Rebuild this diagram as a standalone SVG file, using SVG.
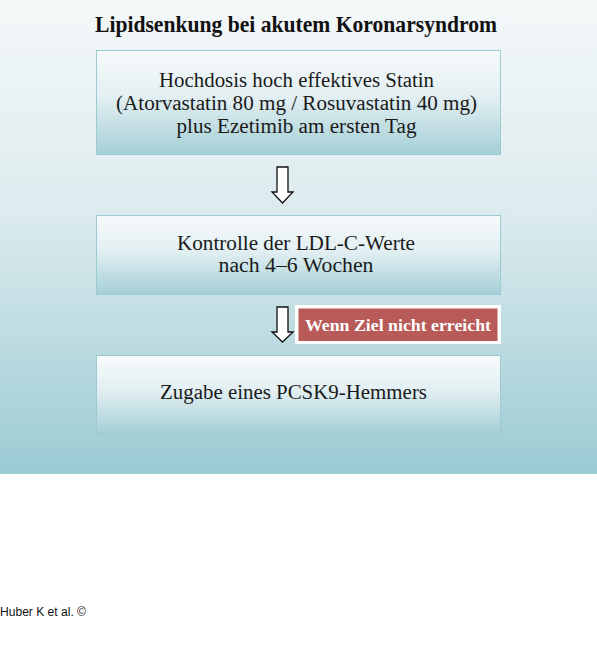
<svg xmlns="http://www.w3.org/2000/svg" width="597" height="661" viewBox="0 0 597 661">
<defs>
<linearGradient id="bg" x1="0" y1="0" x2="0" y2="1">
<stop offset="0" stop-color="#f4f8f9"/>
<stop offset="0.45" stop-color="#dcebee"/>
<stop offset="1" stop-color="#9bcbd3"/>
</linearGradient>
<linearGradient id="box" x1="0" y1="0" x2="0" y2="1">
<stop offset="0" stop-color="#f7fafb"/>
<stop offset="0.45" stop-color="#e2eff2"/>
<stop offset="1" stop-color="#a4cfd6"/>
</linearGradient>
<style>
.box{fill:url(#box);stroke:#9ccad2;stroke-width:1}
.t{font-family:"Liberation Serif","Times New Roman",serif;font-size:20px;fill:#1a1a1a;text-anchor:middle}
.arrow{fill:#ffffff;stroke:#111111;stroke-width:1.3;stroke-linejoin:miter}
</style>
</defs>
<rect x="0" y="0" width="597" height="474" fill="url(#bg)"/>
<rect x="0" y="474" width="597" height="187" fill="#ffffff"/>
<text x="296" y="32" font-family="'Liberation Serif','Times New Roman',serif" font-size="23" font-weight="bold" fill="#111" text-anchor="middle" textLength="402" lengthAdjust="spacingAndGlyphs">Lipidsenkung bei akutem Koronarsyndrom</text>
<g id="connectors">
<path class="arrow" d="M277,167 H288 V192 H293 L282.5,203 L272,192 H277 Z"/>
<path class="arrow" d="M277,307 H288 V332 H293 L282.5,342 L272,332 H277 Z"/>
</g>
<g id="node1">
<rect class="box" x="96.5" y="50.5" width="404" height="104"/>
<text class="t" x="296.5" y="87" textLength="275" lengthAdjust="spacingAndGlyphs">Hochdosis hoch effektives Statin</text>
<text class="t" x="296.5" y="110" textLength="361" lengthAdjust="spacingAndGlyphs">(Atorvastatin 80 mg / Rosuvastatin 40 mg)</text>
<text class="t" x="296.5" y="133" textLength="240" lengthAdjust="spacingAndGlyphs">plus Ezetimib am ersten Tag</text>
</g>
<g id="node2">
<rect class="box" x="96.5" y="215.5" width="404" height="79"/>
<text class="t" x="296" y="250" textLength="238" lengthAdjust="spacingAndGlyphs">Kontrolle der LDL-C-Werte</text>
<text class="t" x="296" y="272" textLength="155" lengthAdjust="spacingAndGlyphs">nach 4–6 Wochen</text>
</g>
<g id="condition">
<rect x="295" y="305" width="206" height="39" fill="#ffffff"/>
<rect x="298.5" y="308.5" width="199" height="32.5" fill="#b75a58"/>
<text x="398" y="331" font-family="'Liberation Serif','Times New Roman',serif" font-size="17" font-weight="bold" fill="#ffffff" text-anchor="middle" textLength="186" lengthAdjust="spacingAndGlyphs">Wenn Ziel nicht erreicht</text>
</g>
<g id="node3">
<rect class="box" x="96.5" y="355.5" width="404" height="78"/>
<text class="t" x="293.5" y="399" textLength="267" lengthAdjust="spacingAndGlyphs">Zugabe eines PCSK9-Hemmers</text>
</g>
<text x="0" y="616" font-family="'Liberation Sans',Arial,sans-serif" font-size="12.5" fill="#111" textLength="86" lengthAdjust="spacingAndGlyphs">Huber K et al. ©</text>
</svg>
